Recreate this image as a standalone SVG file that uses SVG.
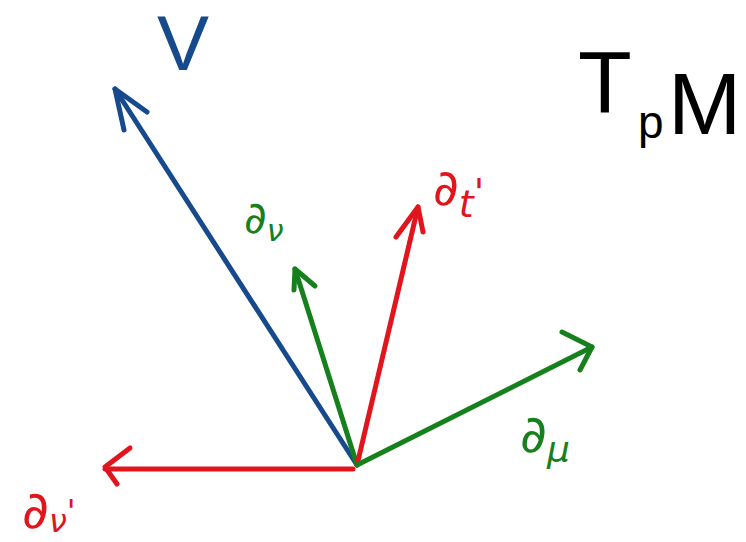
<svg xmlns="http://www.w3.org/2000/svg" width="746" height="542" viewBox="0 0 746 542">
<style>
.vec{fill:none;stroke-width:5;stroke-linecap:round;stroke-linejoin:round}
.blue{stroke:#174a8c}
.green{stroke:#16801c}
.red{stroke:#e2141c}
.lbl{font-family:"DejaVu Sans","Liberation Sans",sans-serif}
.tb{fill:#174a8c}.tg{fill:#16801c}.tr{fill:#e2141c}.tk{fill:#000}
</style>
<rect width="746" height="542" fill="#fff"/>
<g id="connectors">
<g id="vec-V">
<line class="vec blue" x1="357" y1="465" x2="115" y2="89"/>
<polyline class="vec blue" points="124,130 115,89 147,112"/>
</g>
<g id="vec-dnu">
<line class="vec green" x1="357" y1="465" x2="295" y2="269"/>
<polyline class="vec green" points="294,290 295,269 315,286"/>
</g>
<g id="vec-dt">
<line class="vec red" x1="357" y1="465" x2="418" y2="207"/>
<polyline class="vec red" points="396,237 418,207 423,232"/>
</g>
<g id="vec-dmu">
<line class="vec green" x1="357" y1="465" x2="592" y2="347"/>
<polyline class="vec green" points="562,332 592,347 580,370"/>
</g>
<g id="vec-dnuprime">
<line class="vec red" x1="353" y1="469" x2="105" y2="469"/>
<polyline class="vec red" points="130,448 105,467 117,484"/>
</g>
</g>
<g id="label-V"><text class="tb" font-family="Liberation Sans, sans-serif" x="157" y="70" font-size="78">V</text></g>
<g id="label-TpM"><text class="tk" font-family="Liberation Sans, sans-serif" x="578" y="112" font-size="88">T<tspan x="638" font-size="46" dy="26">p</tspan><tspan x="668" font-size="88" dy="-4">M</tspan></text></g>
<g id="label-dnu"><text class="lbl tg" x="244" y="233" font-size="44" font-style="italic">∂<tspan font-size="30" dy="8">ν</tspan></text></g>
<g id="label-dt"><text class="lbl tr" x="433" y="205" font-size="50" font-style="italic">∂<tspan font-size="38" dy="12">t</tspan><tspan font-style="normal" font-size="38" dy="-12">'</tspan></text></g>
<g id="label-dmu"><text class="lbl tg" x="520" y="452" font-size="52" font-style="italic">∂<tspan font-size="36" dy="10">μ</tspan></text></g>
<g id="label-dnuprime"><text class="lbl tr" x="22" y="528" font-size="52" font-style="italic">∂<tspan font-size="32" dy="4">ν</tspan><tspan font-style="normal" font-size="32" dy="-10">'</tspan></text></g>
</svg>
